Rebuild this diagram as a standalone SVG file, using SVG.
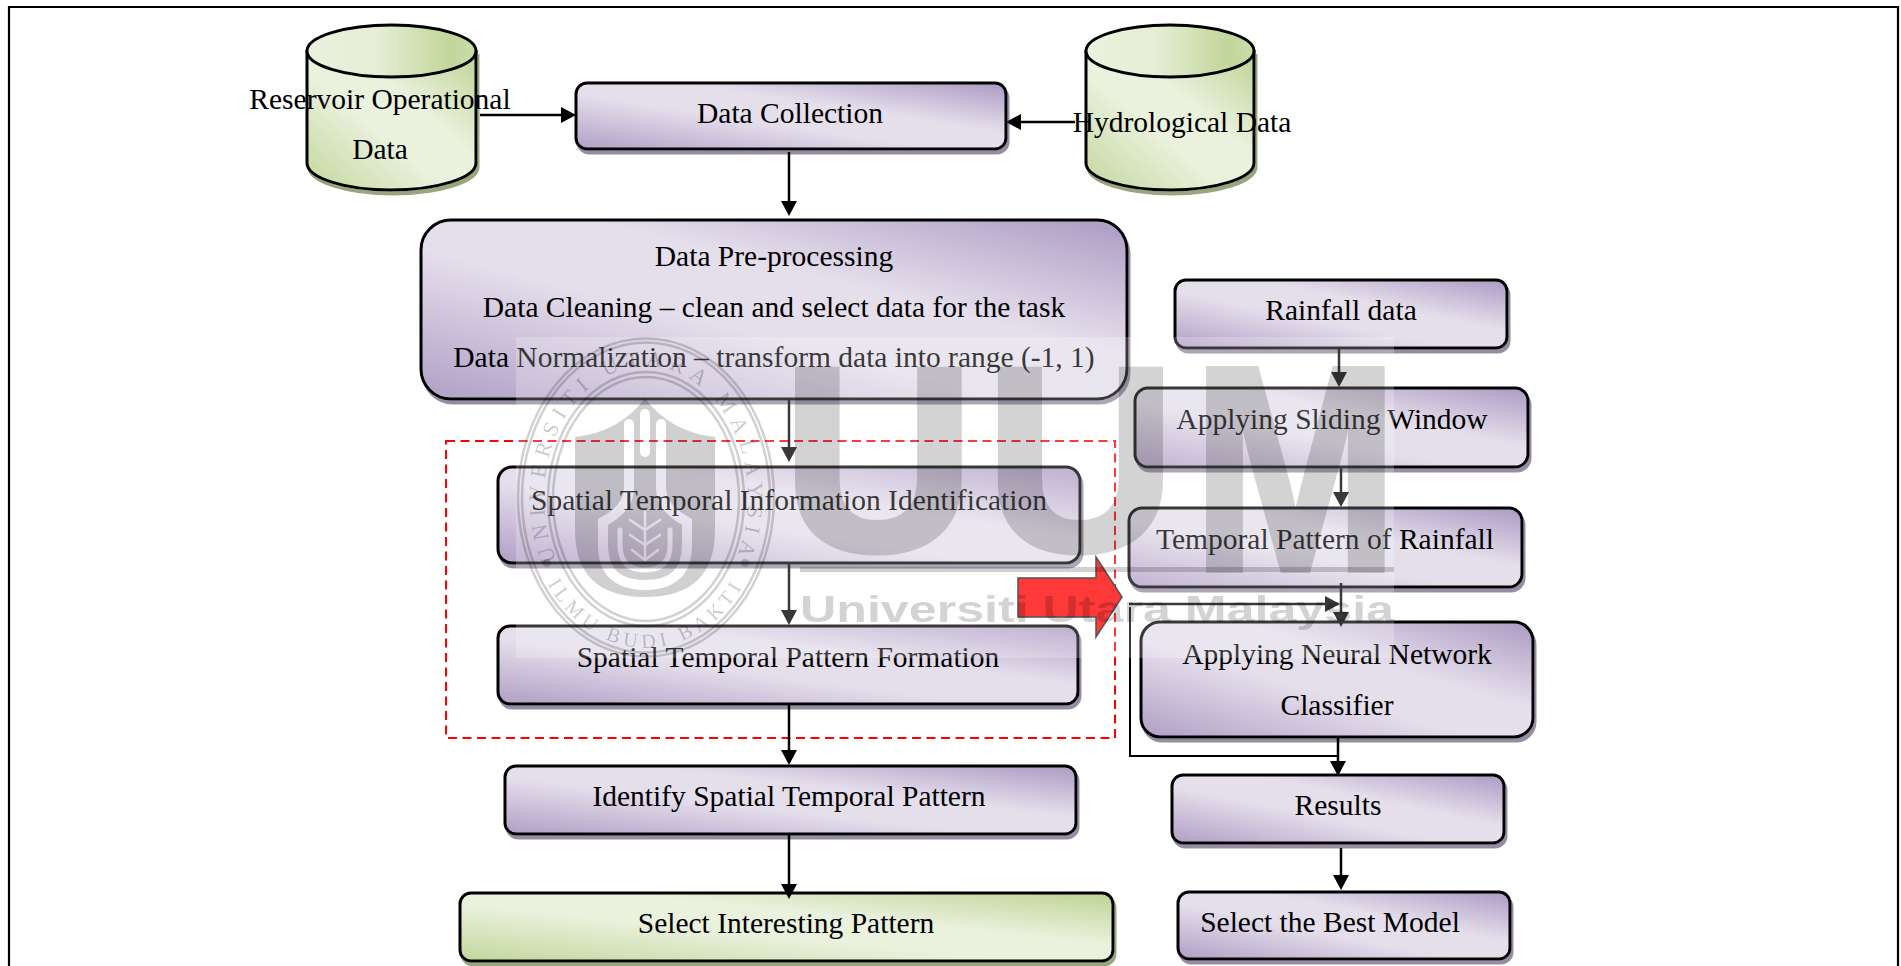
<svg xmlns="http://www.w3.org/2000/svg" width="1901" height="966" viewBox="0 0 1901 966">
<style>
text{font-family:"Liberation Serif","Times New Roman",serif;font-size:29.500px;fill:#000;text-anchor:middle}
.p,.g,.c{stroke:#000;stroke-width:3}
.p{fill:url(#pg);filter:url(#sp)}
.g{fill:url(#gg);filter:url(#sg)}
.c{fill:url(#gg);filter:url(#sg)}
.t{fill:url(#gt);stroke:#000;stroke-width:3}
.a{fill:none;stroke:#000;stroke-width:2.5;marker-end:url(#ah)}
.l{fill:none;stroke:#000;stroke-width:2}
.wm{fill:#000;opacity:.18}
.wt{font-family:"Liberation Sans",Arial,sans-serif;font-weight:700;fill:#000;opacity:.17;text-anchor:start}
.wb{stroke:#000;stroke-width:6}
.st{font-size:22px;fill:#000;opacity:.2}
</style>
<defs>
<linearGradient id="pg" x1="0" y1="1" x2="1" y2="0"><stop offset=".04" stop-color="#b5a5c9"/><stop offset=".42" stop-color="#e5dfec"/><stop offset=".62" stop-color="#e5dfec"/><stop offset=".96" stop-color="#b2a1c7"/></linearGradient>
<linearGradient id="gg" x1="0" y1="1" x2="1" y2="0"><stop offset=".04" stop-color="#c6d9a2"/><stop offset=".42" stop-color="#eaf1dd"/><stop offset=".62" stop-color="#eaf1dd"/><stop offset=".96" stop-color="#c2d69b"/></linearGradient>
<linearGradient id="gt" x1="0" y1="0" x2="1" y2="0"><stop offset="0" stop-color="#eaf1dd"/><stop offset=".4" stop-color="#e6eed6"/><stop offset=".85" stop-color="#c2d69b"/><stop offset="1" stop-color="#cbdcaa"/></linearGradient>
<filter id="sp" x="-5%" y="-10%" width="110%" height="125%"><feDropShadow dx="2" dy="4" stdDeviation=".7" flood-color="#7b6f8d" flood-opacity=".8"/></filter>
<filter id="sg" x="-5%" y="-10%" width="110%" height="125%"><feDropShadow dx="2" dy="4" stdDeviation=".7" flood-color="#7f8f5f" flood-opacity=".8"/></filter>
<marker id="ah" markerUnits="userSpaceOnUse" markerWidth="16" markerHeight="18" refX="9" refY="8" orient="auto"><path d="M0 0L15 8L0 16Z" fill="#000"/></marker>
<path id="stop" d="M567 580A102 131 0 1 1 725 580"/>
<path id="sbot" d="M541 570A120 151 0 0 0 751 570"/>
<mask id="sm" maskUnits="userSpaceOnUse" x="500" y="380" width="300" height="240">
<rect x="500" y="380" width="300" height="240" fill="#fff"/>
<g fill="none" stroke="#000" stroke-linecap="round">
<path stroke-width="10" d="M629 424V488Q629 508 603 522V545Q603 585 645 585Q687 585 687 545V522Q661 508 661 488V424"/>
<path stroke-width="10" d="M645 414V452"/>
<path stroke-width="5" d="M620 530V545Q620 570 645 570Q670 570 670 545V530"/>
<path stroke-width="2.5" d="M645 512V560M645 530L630 520M645 530L660 520M645 545L630 535M645 545L660 535M645 560L632 550M645 560L658 550"/>
</g>
</mask>
</defs>
<rect width="1901" height="966" fill="#fff"/>
<g id="frame"><path d="M9 966V7H1898V966" fill="none" stroke="#000" stroke-width="2.2"/></g>

<g id="reservoir">
<path class="c" d="M307 50V163C307 178 345 190 391 190C437 190 476 178 476 163V50"/>
<ellipse class="t" cx="391.500" cy="51" rx="84.500" ry="26"/>
<text x="380" y="109">Reservoir Operational</text>
<text x="380" y="159">Data</text>
</g>
<g id="hydro">
<path class="c" d="M1086 50V163C1086 178 1124 190 1170 190C1216 190 1254 178 1254 163V50"/>
<ellipse class="t" cx="1170" cy="51" rx="84" ry="26"/>
<text x="1182" y="132">Hydrological Data</text>
</g>
<g id="collect"><rect class="p" x="576" y="83" width="430" height="66" rx="11"/><text x="790" y="123">Data Collection</text></g>
<g id="prep"><rect class="p" x="421" y="220" width="706" height="179" rx="30"/>
<text x="774" y="266">Data Pre-processing</text>
<text x="774" y="317">Data Cleaning – clean and select data for the task</text>
<text x="774" y="367">Data Normalization – transform data into range (-1, 1)</text></g>
<rect id="region" x="446" y="441" width="669" height="297" fill="none" stroke="#f00" stroke-width="2" stroke-dasharray="9 5.500"/>
<g id="info"><rect class="p" x="498" y="467" width="582" height="96" rx="14"/><text x="789" y="510">Spatial Temporal Information Identification</text></g>
<g id="form"><rect class="p" x="498" y="626" width="580" height="78" rx="12"/><text x="788" y="667">Spatial Temporal Pattern Formation</text></g>
<g id="identify"><rect class="p" x="505" y="766" width="571" height="68" rx="11"/><text x="789" y="806">Identify Spatial Temporal Pattern</text></g>
<g id="select"><rect class="g" x="460" y="893" width="653" height="68" rx="11"/><text x="786" y="933">Select Interesting Pattern</text></g>
<g id="rain"><rect class="p" x="1175" y="280" width="332" height="68" rx="11"/><text x="1341" y="320">Rainfall data</text></g>
<g id="slide"><rect class="p" x="1135" y="388" width="393" height="79" rx="13"/><text x="1332" y="429">Applying Sliding Window</text></g>
<g id="tpat"><rect class="p" x="1129" y="508" width="393" height="79" rx="13"/><text x="1325" y="549">Temporal Pattern of Rainfall</text></g>
<g id="neural"><rect class="p" x="1141" y="622" width="392" height="115" rx="19"/><text x="1337" y="664">Applying Neural Network</text><text x="1337" y="715">Classifier</text></g>
<g id="results"><rect class="p" x="1172" y="775" width="332" height="68" rx="11"/><text x="1338" y="815">Results</text></g>
<g id="best"><rect class="p" x="1178" y="892" width="332" height="67" rx="11"/><text x="1330" y="932">Select the Best Model</text></g>

<g id="connectors">
<path class="a" d="M480 115H570"/>
<path class="a" d="M1075 122H1012"/>
<path class="a" d="M789 152V210"/>
<path class="a" d="M789 399V456"/>
<path class="a" d="M789 563V619"/>
<path class="a" d="M789 704V759"/>
<path class="a" d="M789 834V893"/>
<path class="a" d="M1339 348V381"/>
<path class="a" d="M1341 467V501"/>
<path class="a" d="M1341 583V621"/>
<path class="a" d="M1129 604H1334"/>
<path class="l" d="M1130 607V756H1338"/>
<path class="a" d="M1338 737V770"/>
<path class="a" d="M1341 848V884"/>
</g>
<path id="bigarrow" d="M1018 578H1096V557L1122 597L1096 637V617H1018Z" fill="#f00" stroke="#222" stroke-width="1.500"/>

<g id="watermark">
<rect x="516" y="337" width="878" height="321" fill="#fff" opacity=".22"/>
<text class="wt wb" transform="translate(782 550) scale(1.02 1)" style="font-size:262px">U</text>
<text class="wt wb" transform="translate(985 550) scale(1.01 1)" style="font-size:262px">U</text>
<text class="wt wb" transform="translate(1192 570) scale(.85 1)" style="font-size:292px">M</text>
<rect class="wm" x="800" y="567" width="594" height="5"/>
<text class="wt" x="800" y="622" textLength="594" lengthAdjust="spacingAndGlyphs" style="font-size:37px">Universiti Utara Malaysia</text>
<g id="seal" fill="none" stroke="#000" stroke-opacity=".18" stroke-width="2.500">
<ellipse cx="646" cy="497.500" rx="128" ry="159"/>
<ellipse cx="646" cy="497.500" rx="124" ry="155"/>
<ellipse cx="646" cy="499" rx="98" ry="127"/>
<ellipse cx="646" cy="499" rx="93" ry="122"/>
</g>
<path class="wm" mask="url(#sm)" d="M575 437Q620 432 645 398Q670 432 715 437V530Q715 597 645 597Q575 597 575 530Z"/>
<circle class="wm" cx="547" cy="563" r="4"/><circle class="wm" cx="745" cy="563" r="4"/>
<text class="st" letter-spacing="7"><textPath href="#stop" startOffset="50%">UNIVERSITI UTARA MALAYSIA</textPath></text>
<text class="st" letter-spacing="5" style="font-size:20px"><textPath href="#sbot" startOffset="50%">ILMU BUDI BAKTI</textPath></text>
</g>
</svg>
